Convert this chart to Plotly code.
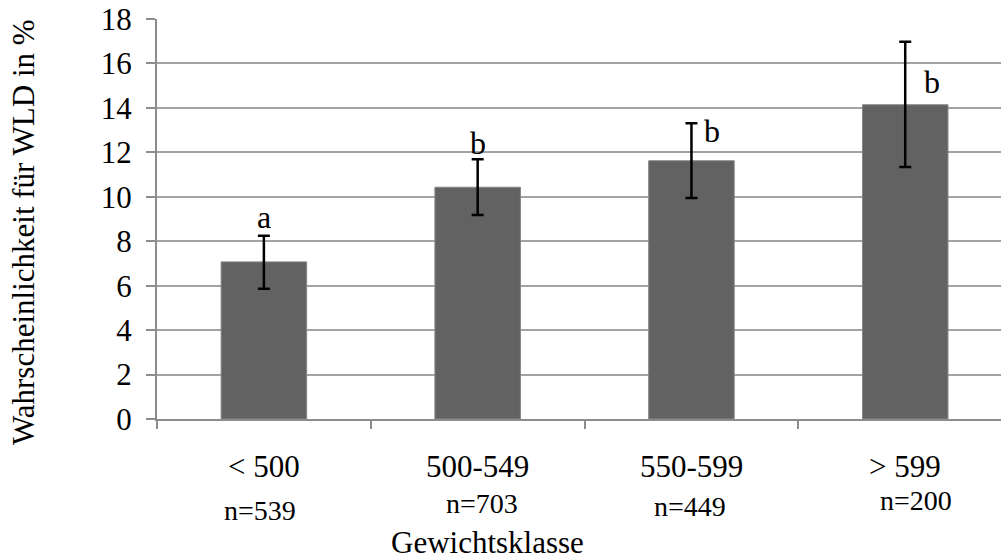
import plotly.graph_objects as go

# Gewichtsklassen und Stichprobengrößen
classes = ["< 500", "500-549", "550-599", "> 599"]
sizes = ["n=539", "n=703", "n=449", "n=200"]

# Wahrscheinlichkeit für WLD (%) mit Konfidenzgrenzen
prob = [7.07, 10.43, 11.62, 14.14]
upper = [8.25, 11.69, 13.31, 16.98]
lower = [5.86, 9.18, 9.95, 11.34]

# Signifikanzbuchstaben
letters = ["a", "b", "b", "b"]

FONT = "Liberation Serif"
x_pos = list(range(len(classes)))
err_plus = [u - p for u, p in zip(upper, prob)]
err_minus = [p - l for p, l in zip(prob, lower)]

fig = go.Figure()
fig.add_trace(go.Bar(
    x=x_pos, y=prob, width=0.4,
    marker=dict(color="#626262", line=dict(color="#858585", width=1)),
    error_y=dict(type="data", symmetric=False, array=err_plus, arrayminus=err_minus,
                 color="black", thickness=2.5, width=6),
    hoverinfo="skip",
))

# Buchstaben über den Fehlerbalken
letter_y = [9.08, 12.4, 12.95, 15.15]
letter_dx = [0, 0, 21, 27]
for i, (t, ly, dx) in enumerate(zip(letters, letter_y, letter_dx)):
    fig.add_annotation(x=x_pos[i], y=ly, xref="x", yref="y", text=t, showarrow=False,
                       xshift=dx, font=dict(family=FONT, size=32, color="black"))

# Kategoriebeschriftungen und Stichprobengrößen unter der Achse
for i, c in enumerate(classes):
    fig.add_annotation(x=x_pos[i], y=0, xref="x", yref="paper", text=c, showarrow=False,
                       yanchor="middle", yshift=-47, font=dict(family=FONT, size=31, color="black"))
size_dx = [-4, 4, -1, 11]
size_dy = [-91, -84, -87, -81]
for i, (s, dx, dy) in enumerate(zip(sizes, size_dx, size_dy)):
    fig.add_annotation(x=x_pos[i], y=0, xref="x", yref="paper", text=s, showarrow=False,
                       yanchor="middle", xshift=dx, yshift=dy,
                       font=dict(family=FONT, size=28, color="black"))

# Achsentitel
fig.add_annotation(x=1, y=0, xref="x", yref="paper", text="Gewichtsklasse", showarrow=False,
                   yanchor="middle", xshift=10, yshift=-123,
                   font=dict(family=FONT, size=31, color="black"))
fig.add_annotation(x=0, y=0.5, xref="paper", yref="paper", text="Wahrscheinlichkeit für WLD in %",
                   showarrow=False, textangle=-90, xanchor="center", yanchor="middle",
                   xshift=-134, yshift=-13,
                   font=dict(family=FONT, size=31, color="black"))

fig.update_layout(
    width=1001, height=560,
    margin=dict(l=157, r=0, t=19, b=141),
    paper_bgcolor="white", plot_bgcolor="white",
    showlegend=False,
    font=dict(family=FONT, color="black"),
    xaxis=dict(
        range=[-0.5, 3.448], tickvals=[-0.5, 0.5, 1.5, 2.5], ticktext=["", "", "", ""],
        ticks="outside", ticklen=8, tickwidth=1.5, tickcolor="#8c8c8c",
        showline=True, linecolor="#8c8c8c", linewidth=2,
        showgrid=False, zeroline=False, fixedrange=True,
    ),
    yaxis=dict(
        range=[0, 18], dtick=2, tick0=0,
        ticks="outside", ticklen=9, tickwidth=1.5, tickcolor="#8c8c8c",
        showline=True, linecolor="#8c8c8c", linewidth=2,
        showgrid=True, gridcolor="#a3a3a3", gridwidth=2,
        zeroline=False, ticklabelstandoff=8,
        tickfont=dict(family=FONT, size=31, color="black"),
        fixedrange=True,
    ),
)

fig.write_html("out.html")
